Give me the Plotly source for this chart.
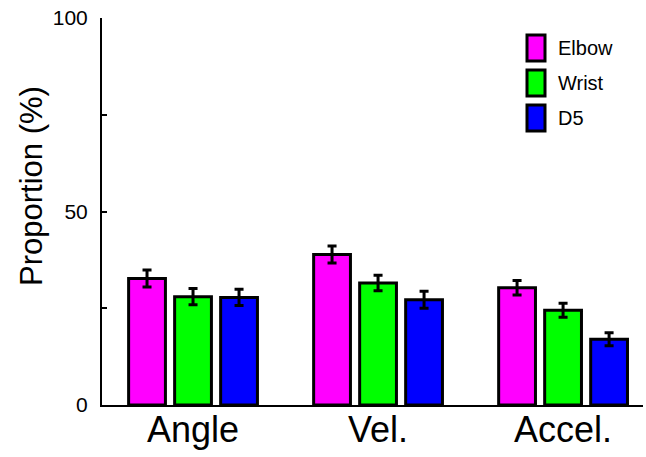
import plotly.graph_objects as go

categories = ["Angle", "Vel.", "Accel."]
series_names = ["Elbow", "Wrist", "D5"]
elbow = [32.7, 38.9, 30.3]
wrist = [28.0, 31.5, 24.5]
d5 = [27.8, 27.2, 17.0]
elbow_err = [2.2, 2.2, 1.9]
wrist_err = [2.1, 2.0, 1.8]
d5_err = [2.1, 2.2, 1.7]
y_tickvals = [0, 25, 50, 75, 100]
y_ticktext = ["0", "", "50", "", "100"]

colors = ["#FF00FF", "#00FF00", "#0000FF"]
values = [elbow, wrist, d5]
errors = [elbow_err, wrist_err, d5_err]

FONT = "Arial, 'Liberation Sans', sans-serif"

fig = go.Figure()
for name, vals, errs, col in zip(series_names, values, errors, colors):
    fig.add_trace(go.Bar(
        x=categories, y=vals, name=name,
        marker=dict(color=col, line=dict(color="black", width=3)),
        error_y=dict(type="data", array=errs, visible=True,
                     color="black", thickness=3, width=4.5),
        showlegend=False,
    ))

# manual legend (tall boxes like the reference)
W, H = 646, 457
ml, mr, mt, mb = 102, 3, 18, 52
pw, ph = W - ml - mr, H - mt - mb

def px2x(px):
    return (px - ml) / pw

def py2y(py):
    return (H - mb - py) / ph

shapes = []
annotations = []
for i, (name, col) in enumerate(zip(series_names, colors)):
    top = 35 + i * 35
    shapes.append(dict(type="rect", xref="paper", yref="paper",
                       x0=px2x(527), x1=px2x(545), y0=py2y(top + 26), y1=py2y(top),
                       fillcolor=col, line=dict(color="black", width=3)))
    annotations.append(dict(xref="paper", yref="paper", x=px2x(556), y=py2y(top + 13),
                            xanchor="left", yanchor="middle", text=name, showarrow=False,
                            font=dict(family=FONT, size=20, color="black")))

annotations.append(dict(xref="paper", yref="paper", x=px2x(31), y=py2y(186),
                        xanchor="center", yanchor="middle", text="Proportion (%)",
                        textangle=-90, showarrow=False,
                        font=dict(family=FONT, size=31, color="black")))

fig.update_layout(
    width=W, height=H,
    margin=dict(l=ml, r=mr, t=mt, b=mb, autoexpand=False),
    paper_bgcolor="white", plot_bgcolor="white",
    barmode="group", bargap=0.254, bargroupgap=0.2,
    font=dict(family=FONT, color="black"),
    shapes=shapes, annotations=annotations,
)
fig.update_xaxes(
    range=[-0.492, 2.432], showline=True, linecolor="black", linewidth=2,
    ticks="", showgrid=False, zeroline=False, automargin=False,
    tickfont=dict(family=FONT, size=36, color="black"),
    ticklabelstandoff=-8,
)
fig.update_yaxes(
    range=[0, 100], showline=True, linecolor="black", linewidth=2,
    ticks="inside", ticklen=5, tickwidth=2, tickcolor="black",
    tickvals=y_tickvals, ticktext=y_ticktext,
    showgrid=False, zeroline=False, automargin=False,
    tickfont=dict(family=FONT, size=21, color="black"),
    ticklabelstandoff=8,
)

fig.write_html("out.html")
